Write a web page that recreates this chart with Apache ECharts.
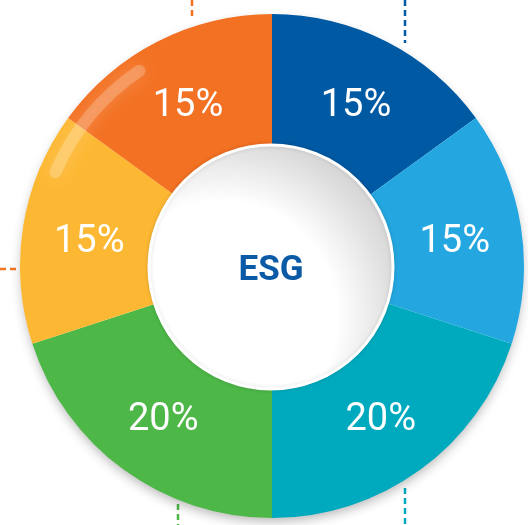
<!DOCTYPE html>
<html>
<head>
<meta charset="utf-8">
<script src="https://cdn.jsdelivr.net/npm/echarts@6/dist/echarts.min.js"></script>
<style>
  html, body { margin: 0; padding: 0; background: #fff; }
  #main { width: 528px; height: 525px; }
</style>
</head>
<body>
<div id="main"></div>
<script>
// slices clockwise from 12 o'clock
var names = ['S1', 'S2', 'S3', 'S4', 'S5', 'S6'];
var values = [15, 15, 20, 20, 15, 15];
var colors = ['#0059a3', '#24a7e0', '#00aabe', '#4db748', '#fdb833', '#f37122'];
var centerText = 'ESG';

var data = [];
for (var i = 0; i < values.length; i++) {
  data.push({ name: names[i], value: values[i], itemStyle: { color: colors[i] } });
}

var myChart = echarts.init(document.getElementById('main'));
var cx = 272, cy = 266;

// dotted leader stubs around the ring
function dash(x1, y1, x2, y2, color) {
  return {
    type: 'line',
    shape: { x1: x1, y1: y1, x2: x2, y2: y2 },
    style: { stroke: color, lineWidth: 2.5, lineDash: [6, 4] },
    z: 0
  };
}

var option = {
  animation: false,
  graphic: [
    dash(192, 0, 192, 20, '#f37122'),
    dash(405, 0, 405, 43, '#0059a3'),
    dash(0, 269, 16, 269, '#f37122'),
    dash(178, 504, 178, 525, '#4db748'),
    dash(405, 488, 405, 525, '#00aabe'),
    {
      // glossy highlight on the upper-left rim
      type: 'arc',
      z: 20,
      shape: { cx: cx, cy: cy, r: 236, startAngle: Math.PI * 1.13, endAngle: Math.PI * 1.31 },
      style: { stroke: 'rgba(255,255,255,0.22)', lineWidth: 12, fill: null, shadowBlur: 18, shadowColor: 'rgba(255,255,255,0.9)', lineCap: 'round' }
    }
  ],
  series: [
    {
      // shadow under the ring
      type: 'pie',
      silent: true,
      center: [cx, cy],
      radius: [0, 250],
      z: 1,
      label: { show: false },
      data: [{ value: 1, itemStyle: { color: '#fff', shadowBlur: 12, shadowColor: 'rgba(0,0,0,0.3)', shadowOffsetY: 5 } }]
    },
    {
      type: 'pie',
      silent: true,
      center: [cx, cy],
      radius: [112, 252],
      startAngle: 90,
      clockwise: true,
      z: 2,
      itemStyle: { borderWidth: 0 },
      label: {
        show: true,
        position: 'inside',
        formatter: '{c}%',
        color: '#fff',
        fontFamily: 'Roboto',
        fontSize: 38,
        fontWeight: 'normal',
        offset: [0, 5]
      },
      labelLine: { show: false },
      data: data
    },
    {
      // white centre disc
      type: 'pie',
      silent: true,
      center: [cx - 1, cy + 1],
      radius: [0, 122],
      z: 3,
      label: {
        show: true,
        position: 'center',
        formatter: centerText,
        color: '#0a5aa6',
        fontFamily: 'Roboto',
        fontWeight: 'bold',
        fontSize: 35,
        offset: [0, 4]
      },
      data: [{
        value: 1,
        itemStyle: {
          color: {
            type: 'radial', x: 0.3, y: 0.7, r: 0.85,
            colorStops: [
              { offset: 0, color: '#ffffff' },
              { offset: 0.55, color: '#ffffff' },
              { offset: 0.82, color: '#dedede' },
              { offset: 1, color: '#cbcbcb' }
            ]
          },
          borderColor: '#ffffff',
          borderWidth: 3,
          shadowBlur: 4,
          shadowColor: 'rgba(0,0,0,0.12)'
        }
      }]
    }
  ]
};

myChart.setOption(option);
</script>
</body>
</html>
